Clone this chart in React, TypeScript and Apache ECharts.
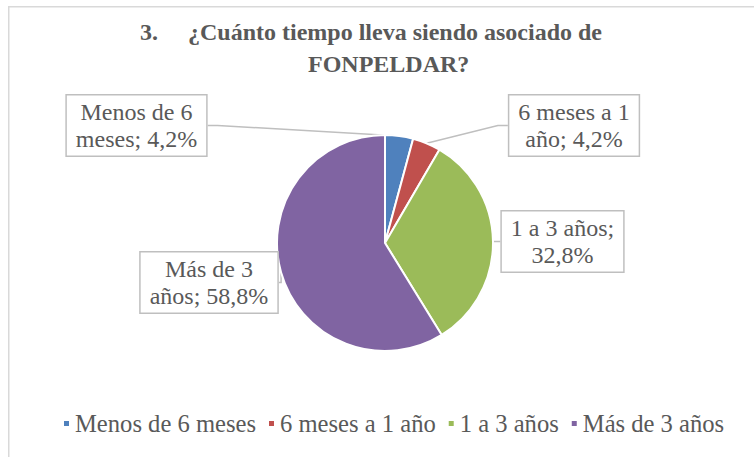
import React, { useEffect, useRef } from "react";
import * as echarts from "echarts";

const categories = ["Menos de 6 meses", "6 meses a 1 año", "1 a 3 años", "Más de 3 años"];
const values = [4.2, 4.2, 32.8, 58.8];
const labelNames = ["Menos de 6\nmeses", "6 meses a 1\naño", "1 a 3 años", "Más de 3\naños"];
const labelSeparators = ["; ", "; ", ";\n", "; "];
const colors = ["#4F81BD", "#C0504D", "#9BBB59", "#8064A2"];
const labelCenters = [
  [136.5, 125.5],
  [574, 125.5],
  [562.5, 241.5],
  [209, 282.5],
];

const FONT = "'Liberation Serif', 'Times New Roman', serif";
const TEXT_COLOR = "#595959";

export default function App() {
  const ref = useRef<HTMLDivElement>(null);

  useEffect(() => {
    document.body.style.margin = "0";
    const chart = echarts.init(ref.current!, null, { renderer: "svg" });
    const option = {
      animation: false,
      backgroundColor: "#ffffff",
      color: colors,
      title: [
        {
          text: "3.     ¿Cuánto tiempo lleva siendo asociado de",
          left: 140,
          top: 20,
          padding: 0,
          textStyle: { fontFamily: FONT, fontSize: 24, fontWeight: "bold", color: TEXT_COLOR },
        },
        {
          text: "FONPELDAR?",
          left: 308,
          top: 52,
          padding: 0,
          textStyle: { fontFamily: FONT, fontSize: 24, fontWeight: "bold", color: TEXT_COLOR },
        },
      ],
      graphic: [
        {
          type: "rect",
          shape: { x: 8.75, y: 6.75, width: 800, height: 500 },
          style: { fill: "none", stroke: "#d9d9d9", lineWidth: 1.5 },
          silent: true,
        },
      ],
      legend: {
        data: categories,
        bottom: 16,
        left: 57,
        icon: "rect",
        itemWidth: 7,
        itemHeight: 7,
        itemGap: 11,
        textStyle: { fontFamily: FONT, fontSize: 24.6, color: TEXT_COLOR },
      },
      series: [
        {
          type: "pie",
          center: [385, 243],
          radius: [0, 108],
          startAngle: 90,
          clockwise: true,
          avoidLabelOverlap: false,
          itemStyle: { borderColor: "#ffffff", borderWidth: 2 },
          data: categories.map((name, i) => ({ name, value: values[i] })),
          label: {
            show: true,
            position: "outside",
            formatter: (p: any) =>
              labelNames[p.dataIndex] +
              labelSeparators[p.dataIndex] +
              values[p.dataIndex].toFixed(1).replace(".", ",") +
              "%",
            fontFamily: FONT,
            fontSize: 24,
            lineHeight: 27,
            color: TEXT_COLOR,
            backgroundColor: "#ffffff",
            borderColor: "#bfbfbf",
            borderWidth: 1.5,
            padding: [3, 9, 3, 9],
            align: "center",
          },
          labelLine: {
            show: true,
            length: 10,
            length2: 10,
            lineStyle: { color: "#bfbfbf", width: 1.5 },
          },
          labelLayout: (params: any) => {
            const c = labelCenters[params.dataIndex];
            return { x: c[0], y: c[1], align: "center", verticalAlign: "middle" };
          },
          emphasis: { disabled: true },
        },
      ],
    };
    chart.setOption(option as any);
    return () => chart.dispose();
  }, []);

  return <div ref={ref} style={{ width: 754, height: 457 }} />;
}
